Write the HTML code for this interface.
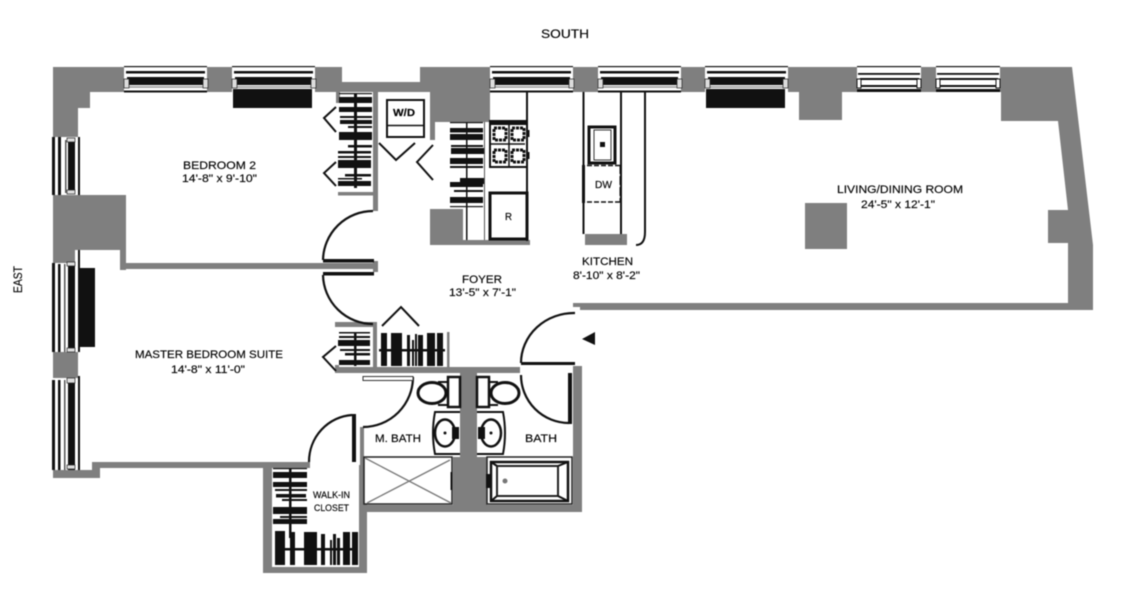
<!DOCTYPE html>
<html><head><meta charset="utf-8"><style>
html,body{margin:0;padding:0;background:#fff;width:1128px;height:600px;overflow:hidden}
svg{display:block;filter:blur(.4px)}
text{font-family:"Liberation Sans",sans-serif;fill:#000;font-size:11px;stroke:#000;stroke-width:.15px}
.w{fill:#7f7f7f}.k{fill:#111}.l{stroke:#111;fill:none}
</style></head><body>
<svg width="1128" height="600" viewBox="0 0 1128 600" xmlns="http://www.w3.org/2000/svg">
<rect width="1128" height="600" fill="#fff"/>
<!-- walls -->
<g class="w">
<path d="M53 67H342V82H420V67H1072L1093 245V310H580V307H573V303H1068V243H1048V210H1068L1058 121H1001V92H842V120H799V92H490V122H435V140H430V92H378V211H373V92H340V103H336V92H90V108H78V137H53Z"/>
<rect x="53" y="195" width="73" height="55"/><rect x="53" y="250" width="22" height="13"/><rect x="120" y="250" width="6" height="20"/>
<rect x="120" y="263" width="258" height="6"/><rect x="373" y="261" width="5" height="11"/>
<rect x="338" y="192" width="35" height="3.500"/>
<rect x="805" y="203" width="42" height="46"/>
<rect x="53" y="352" width="25" height="26"/>
<path d="M53 470H92V462H272V468H100V478H53Z"/>
<path d="M263 462H310V468H272V567H359V465H367V505H573V366H582V512H367V573H263Z"/>
<rect x="430" y="209" width="33" height="36"/><rect x="463" y="240" width="67" height="5"/>
<rect x="585" y="234" width="42" height="11"/>
<rect x="335" y="322" width="41" height="5"/><rect x="373" y="322" width="4" height="48"/>
<rect x="447" y="332" width="2.500" height="38"/><rect x="335" y="367" width="185" height="6"/>
<rect x="335" y="365" width="4" height="8"/>
<rect x="460" y="368" width="17" height="90"/><rect x="453" y="457" width="34" height="50"/>
<rect x="360" y="427" width="4" height="80"/>
</g>
<!-- top windows -->
<g>
<rect x="124" y="66" width="83" height="26" fill="#fff"/><rect x="124" y="66" width="83" height="1.200" class="k"/><rect x="126" y="71" width="79" height="2.500" class="k"/><rect x="127" y="77" width="77" height="8" class="k"/><rect x="127" y="86" width="77" height="2" fill="#aaa"/><rect x="124" y="90.500" width="83" height="2" class="k"/><rect x="124" y="79" width="5" height="9" fill="#ddd" stroke="#222" stroke-width=".7"/><rect x="203" y="79" width="5" height="9" fill="#ddd" stroke="#222" stroke-width=".7"/>
<rect x="232" y="66" width="83" height="26" fill="#fff"/><rect x="232" y="66" width="83" height="1.200" class="k"/><rect x="234" y="71" width="79" height="2.500" class="k"/><rect x="235" y="77" width="77" height="8" class="k"/><rect x="235" y="86" width="77" height="2" fill="#aaa"/><rect x="232" y="79" width="5" height="9" fill="#ddd" stroke="#222" stroke-width=".7"/><rect x="311" y="79" width="5" height="9" fill="#ddd" stroke="#222" stroke-width=".7"/>
<rect x="233" y="89" width="79" height="19" class="k"/>
<rect x="490" y="66" width="83" height="26" fill="#fff"/><rect x="490" y="66" width="83" height="1.200" class="k"/><rect x="492" y="71" width="79" height="2.500" class="k"/><rect x="493" y="77" width="77" height="8" class="k"/><rect x="493" y="86" width="77" height="2" fill="#aaa"/><rect x="490" y="90.500" width="83" height="2" class="k"/><rect x="490" y="79" width="5" height="9" fill="#ddd" stroke="#222" stroke-width=".7"/><rect x="569" y="79" width="5" height="9" fill="#ddd" stroke="#222" stroke-width=".7"/>
<rect x="598" y="66" width="83" height="26" fill="#fff"/><rect x="598" y="66" width="83" height="1.200" class="k"/><rect x="600" y="71" width="79" height="2.500" class="k"/><rect x="601" y="77" width="77" height="8" class="k"/><rect x="601" y="86" width="77" height="2" fill="#aaa"/><rect x="598" y="90.500" width="83" height="2" class="k"/><rect x="598" y="79" width="5" height="9" fill="#ddd" stroke="#222" stroke-width=".7"/><rect x="677" y="79" width="5" height="9" fill="#ddd" stroke="#222" stroke-width=".7"/>
<rect x="705" y="66" width="83" height="26" fill="#fff"/><rect x="705" y="66" width="83" height="1.200" class="k"/><rect x="707" y="71" width="79" height="2.500" class="k"/><rect x="708" y="77" width="77" height="8" class="k"/><rect x="708" y="86" width="77" height="2" fill="#aaa"/><rect x="705" y="79" width="5" height="9" fill="#ddd" stroke="#222" stroke-width=".7"/><rect x="783" y="79" width="5" height="9" fill="#ddd" stroke="#222" stroke-width=".7"/>
<rect x="706" y="89" width="79" height="19" class="k"/>
<rect x="857" y="66" width="64" height="26" fill="#fff"/><rect x="857" y="66" width="64" height="1.200" class="k"/><rect x="858" y="73" width="62" height="1.800" class="k"/><rect x="860" y="78" width="59" height="2" class="k"/><rect x="860" y="85" width="59" height="2" class="k"/><rect x="857" y="89" width="64" height="3" class="k"/><rect x="857" y="79" width="4" height="9" fill="#fff" stroke="#111"/><rect x="917" y="79" width="4" height="9" fill="#fff" stroke="#111"/>
<rect x="936" y="66" width="64" height="26" fill="#fff"/><rect x="936" y="66" width="64" height="1.200" class="k"/><rect x="937" y="73" width="62" height="1.800" class="k"/><rect x="939" y="78" width="59" height="2" class="k"/><rect x="939" y="85" width="59" height="2" class="k"/><rect x="936" y="89" width="64" height="3" class="k"/><rect x="936" y="79" width="4" height="9" fill="#fff" stroke="#111"/><rect x="996" y="79" width="4" height="9" fill="#fff" stroke="#111"/>
</g>
<!-- left windows -->
<g>
<rect x="52" y="137" width="28" height="58" fill="#fff"/><rect x="52" y="137" width="3" height="58" class="k"/><rect x="58" y="137" width="3" height="58" class="k"/><rect x="65" y="140" width="1.500" height="53" fill="#555"/><rect x="68" y="140" width="7" height="53" class="k"/><rect x="78" y="137" width="2" height="58" class="k"/><rect x="67" y="138" width="8" height="4" fill="#ddd" stroke="#222" stroke-width=".7"/><rect x="67" y="190" width="8" height="4" fill="#ddd" stroke="#222" stroke-width=".7"/>
<rect x="52" y="263" width="28" height="89" fill="#fff"/><rect x="52" y="263" width="3" height="89" class="k"/><rect x="58" y="264" width="2.500" height="88" class="k"/><rect x="64" y="264" width="1.500" height="88" fill="#555"/><rect x="68" y="264" width="7" height="88" class="k"/><rect x="78" y="250" width="2" height="102" class="k"/><rect x="67" y="262" width="8" height="4" fill="#ddd" stroke="#222" stroke-width=".7"/><rect x="67" y="348" width="8" height="4" fill="#ddd" stroke="#222" stroke-width=".7"/>
<rect x="80" y="268" width="15" height="79" class="k"/>
<rect x="52" y="378" width="28" height="92" fill="#fff"/><rect x="52" y="380" width="3" height="90" class="k"/><rect x="58" y="380" width="2.500" height="90" class="k"/><rect x="64" y="380" width="1.500" height="90" fill="#555"/><rect x="68" y="380" width="7" height="90" class="k"/><rect x="78" y="376" width="2" height="94" class="k"/><rect x="67" y="378" width="8" height="5" fill="#ddd" stroke="#222" stroke-width=".7"/><rect x="67" y="465" width="8" height="4" fill="#ddd" stroke="#222" stroke-width=".7"/>
</g>
<!-- closet bedroom 2 -->
<g class="k">
<rect x="339" y="93" width="33" height="1.200"/><rect x="339" y="97" width="33" height="6"/><rect x="339" y="107" width="33" height="5"/><rect x="340" y="116" width="32" height="2"/><rect x="340" y="120" width="32" height="4"/><rect x="348" y="126" width="24" height="2"/><rect x="339" y="132" width="33" height="8"/><rect x="348" y="145" width="24" height="2.500"/><rect x="338" y="151" width="33" height="2.500"/><rect x="338" y="156" width="33" height="2"/><rect x="338" y="160" width="33" height="8"/><rect x="345" y="174" width="26" height="2.500"/><rect x="338" y="178" width="24" height="1.500"/><rect x="338" y="181" width="33" height="5"/><rect x="354" y="93" width="3" height="95"/>
</g>
<!-- closet foyer top -->
<g class="k">
<rect x="450" y="122" width="33" height="1.200"/><rect x="450" y="128" width="33" height="4.500"/><rect x="450" y="134" width="33" height="6"/><rect x="451" y="145" width="32" height="2"/><rect x="451" y="148" width="33" height="6"/><rect x="450" y="158" width="33" height="6"/><rect x="450" y="166" width="33" height="2"/><rect x="460" y="178" width="24" height="6"/><rect x="450" y="182" width="33" height="5"/><rect x="454" y="190" width="29" height="2"/><rect x="450" y="197" width="33" height="6"/><rect x="450" y="206" width="33" height="1.200"/><rect x="466" y="122" width="1.500" height="118"/><rect x="484" y="122" width="1" height="118" fill="#555"/>
</g>
<!-- range, fridge, kitchen -->
<g>
<path class="l" stroke-width="2" d="M527 92V241M583.500 92V234M621 92V234M645 92V232Q645 245 636 245"/>
<rect x="490" y="121" width="37" height="46" fill="#fff" stroke="#111" stroke-width="2"/><rect x="490" y="121" width="37" height="4" class="k"/>
<rect x="494" y="128" width="12" height="12" fill="#fff" stroke="#111" stroke-width="3" stroke-dasharray="3 1"/><rect x="512" y="128" width="12" height="12" fill="#fff" stroke="#111" stroke-width="3" stroke-dasharray="3 1"/><rect x="494" y="150" width="12" height="12" fill="#fff" stroke="#111" stroke-width="3" stroke-dasharray="3 1"/><rect x="512" y="150" width="12" height="12" fill="#fff" stroke="#111" stroke-width="3" stroke-dasharray="3 1"/>
<path class="l" stroke-width="1.500" d="M509 123V166M491 144H525"/><rect x="527" y="130" width="2.500" height="7" class="k"/><rect x="527" y="152" width="2.500" height="7" class="k"/>
<rect x="490" y="193" width="37" height="46" fill="#fff" stroke="#111" stroke-width="3"/>
<rect x="589" y="127" width="26" height="36" fill="#fff" stroke="#111" stroke-width="3"/><rect x="594" y="130" width="17" height="30" fill="#fff" stroke="#333" stroke-width="1"/><rect x="600" y="142" width="5" height="5" class="k"/>
<rect x="582" y="165" width="3" height="38" class="k"/>
<path class="l" stroke-width="1.500" stroke-dasharray="5 2" d="M587 165.500H620M587 202H620"/><path class="l" stroke-width="1" d="M620 165V202" stroke-dasharray="9 2"/>
</g>
<!-- W/D -->
<rect x="387" y="100" width="37" height="37" fill="#fff" stroke="#111" stroke-width="2"/><path class="l" stroke-width="1.500" d="M387 125.500H424"/>
<!-- chevrons -->
<g class="l" stroke-width="2" fill="none">
<path d="M336 107L324 118L336 132M336 162L324 173L336 186M379 143L396 160L415 143M433 145L417 162L433 180"/>
<path d="M382 326L401 307L419 326M336 346L323 357L336 371"/>
</g>
<path d="M582 339L595 332V345Z" class="k"/>
<!-- doors -->
<g class="l" fill="none">
<path stroke-width="2.200" d="M373 211A50 50 0 0 0 323 260M323 275A50 50 0 0 0 373 324M575 313A53 50 0 0 0 521 363M521 375A48 48 0 0 0 569 423M413 377A50 50 0 0 1 363 427M352 415A46 47 0 0 0 309 462"/>
</g>
<g class="k">
<rect x="323" y="259" width="51" height="3.500"/><rect x="323" y="272" width="51" height="3.500"/><rect x="521" y="362" width="54" height="3"/><rect x="568" y="373" width="4" height="51"/><rect x="352" y="414" width="4" height="48"/>
</g>
<rect x="363" y="376.500" width="50" height="4" fill="#fff" stroke="#333" stroke-width="1"/>
<!-- master closets -->
<g class="k">
<rect x="339" y="332" width="31" height="1.500"/><rect x="339" y="336" width="31" height="2"/><rect x="338" y="340" width="32" height="6"/><rect x="340" y="349" width="30" height="2"/><rect x="345" y="353" width="25" height="2.500"/><rect x="339" y="360" width="31" height="5"/><rect x="354" y="332" width="2.500" height="34"/>
<rect x="381" y="333" width="6" height="33"/><rect x="391" y="333" width="11" height="33"/><rect x="407" y="335" width="3" height="31"/><rect x="412" y="340" width="2" height="26"/><rect x="415" y="334" width="2" height="32"/><rect x="418" y="335" width="5" height="31"/><rect x="427" y="333" width="8" height="33"/><rect x="437" y="333" width="6" height="33"/><rect x="379" y="349" width="66" height="2.500"/>
</g>
<!-- walk-in -->
<g class="k">
<rect x="273" y="468" width="34" height="1.200"/><rect x="273" y="472" width="34" height="6"/><rect x="273" y="482" width="34" height="5"/><rect x="275" y="489" width="32" height="2"/><rect x="276" y="494" width="30" height="3.500"/><rect x="282" y="499" width="25" height="2"/><rect x="273" y="507" width="34" height="7"/><rect x="280" y="516" width="27" height="2"/><rect x="273" y="519" width="34" height="5"/><rect x="289" y="468" width="2.500" height="70"/>
<rect x="275" y="531" width="10" height="34"/><rect x="290" y="532" width="5" height="33"/><rect x="304" y="532" width="13" height="33"/><rect x="321" y="534" width="4" height="31"/><rect x="330" y="540" width="2" height="25"/><rect x="333" y="534" width="3" height="31"/><rect x="337" y="538" width="3" height="27"/><rect x="343" y="532" width="7" height="33"/><rect x="352" y="532" width="6" height="33"/><rect x="275" y="548" width="83" height="2.500"/>
</g>
<!-- toilets & sinks -->
<g fill="#fff" stroke="#111">
<rect x="448" y="377" width="12" height="30" stroke-width="2.500"/><path d="M447 382H438M447 405H438" stroke-width="2"/><ellipse cx="432" cy="393" rx="14" ry="10.500" stroke-width="3"/>
<rect x="477" y="377" width="12" height="30" stroke-width="2.500"/><path d="M489 382H498M489 405H498" stroke-width="2"/><ellipse cx="505" cy="393" rx="14" ry="10.500" stroke-width="3"/>
<path d="M460 412H435Q431 433 435 454H460" stroke-width="2"/><ellipse cx="445" cy="433" rx="10" ry="13.500" stroke-width="2.500"/>
<path d="M477 412H503Q507 433 503 454H477" stroke-width="2"/><ellipse cx="491" cy="433" rx="10" ry="13.500" stroke-width="2.500"/>
</g>
<g class="k"><circle cx="445" cy="433" r="1.500"/><rect x="452" y="427" width="7" height="12"/><circle cx="491" cy="433" r="1.500"/><rect x="478" y="427" width="7" height="12"/></g>
<!-- shower -->
<rect x="364" y="457" width="88" height="47" fill="#fff" stroke="#222" stroke-width="1.500"/>
<path d="M365 458L451 503M367 503L450 460" stroke="#777" stroke-width="1.300" fill="none"/>
<rect x="450.500" y="472" width="2" height="18" class="k"/>
<!-- tub -->
<rect x="487" y="457" width="85" height="47" fill="#fff" stroke="#222" stroke-width="1.500"/>
<rect x="491" y="462" width="77" height="39" fill="#fff" stroke="#111" stroke-width="2.500"/>
<rect x="497" y="466" width="61" height="30" fill="#fff" stroke="#222" stroke-width="2"/>
<path d="M491 462L497 466M568 462L558 466M491 501L497 496M568 501L558 496" stroke="#111" stroke-width="2"/>
<rect x="486" y="474" width="6" height="14" class="k"/><circle cx="505" cy="481" r="2.500" fill="#777"/>
<!-- labels -->
<text x="541" y="38" textLength="48" lengthAdjust="spacingAndGlyphs" style="font-size:12px">SOUTH</text>
<text transform="translate(22,293) rotate(-90)" textLength="27" lengthAdjust="spacingAndGlyphs" style="font-size:12px">EAST</text>
<text x="183" y="169" textLength="73" lengthAdjust="spacingAndGlyphs">BEDROOM 2</text>
<text x="182" y="182" textLength="75" lengthAdjust="spacingAndGlyphs">14'-8" x 9'-10"</text>
<text x="837" y="193" textLength="126" lengthAdjust="spacingAndGlyphs">LIVING/DINING ROOM</text>
<text x="861" y="208" textLength="74" lengthAdjust="spacingAndGlyphs">24'-5" x 12'-1"</text>
<text x="582" y="265" textLength="51" lengthAdjust="spacingAndGlyphs">KITCHEN</text>
<text x="573" y="279" textLength="67" lengthAdjust="spacingAndGlyphs">8'-10" x 8'-2"</text>
<text x="462" y="283" textLength="40" lengthAdjust="spacingAndGlyphs">FOYER</text>
<text x="449" y="296" textLength="67" lengthAdjust="spacingAndGlyphs">13'-5" x 7'-1"</text>
<text x="135" y="358" textLength="148" lengthAdjust="spacingAndGlyphs">MASTER BEDROOM SUITE</text>
<text x="171" y="373" textLength="74" lengthAdjust="spacingAndGlyphs">14'-8" x 11'-0"</text>
<text x="375" y="442" textLength="46" lengthAdjust="spacingAndGlyphs">M. BATH</text>
<text x="525" y="442" textLength="32" lengthAdjust="spacingAndGlyphs">BATH</text>
<text x="313" y="498" textLength="37" lengthAdjust="spacingAndGlyphs" style="font-size:9px">WALK-IN</text>
<text x="314" y="511" textLength="35" lengthAdjust="spacingAndGlyphs" style="font-size:9px">CLOSET</text>
<text x="393" y="116" textLength="22" lengthAdjust="spacingAndGlyphs" style="font-size:10px;font-weight:bold">W/D</text>
<text x="505" y="220" textLength="7" lengthAdjust="spacingAndGlyphs" style="font-size:10px">R</text>
<text x="595" y="188" textLength="17" lengthAdjust="spacingAndGlyphs" style="font-size:10px">DW</text>
</svg>
</body></html>
